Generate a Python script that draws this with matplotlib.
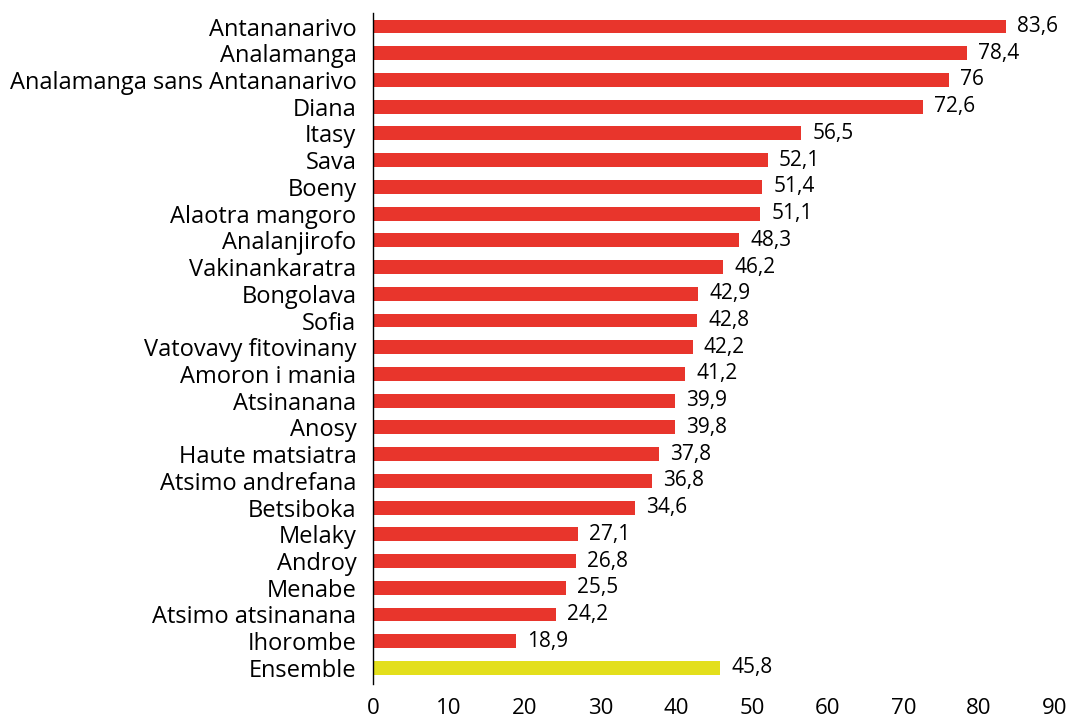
import matplotlib
matplotlib.use("Agg")
import matplotlib.pyplot as plt

plt.rcParams["font.family"] = ["Open Sans", "DejaVu Sans"]

regions = [
    "Antananarivo", "Analamanga", "Analamanga sans Antananarivo", "Diana",
    "Itasy", "Sava", "Boeny", "Alaotra mangoro", "Analanjirofo",
    "Vakinankaratra", "Bongolava", "Sofia", "Vatovavy fitovinany",
    "Amoron i mania", "Atsinanana", "Anosy", "Haute matsiatra",
    "Atsimo andrefana", "Betsiboka", "Melaky", "Androy", "Menabe",
    "Atsimo atsinanana", "Ihorombe", "Ensemble",
]
values = [
    83.6, 78.4, 76, 72.6, 56.5, 52.1, 51.4, 51.1, 48.3, 46.2, 42.9, 42.8,
    42.2, 41.2, 39.9, 39.8, 37.8, 36.8, 34.6, 27.1, 26.8, 25.5, 24.2, 18.9,
    45.8,
]
xticks = [0, 10, 20, 30, 40, 50, 60, 70, 80, 90]

red = "#E8352C"
yellow = "#E3DF1C"
colors = [yellow if r == "Ensemble" else red for r in regions]

fig = plt.figure(figsize=(10.72, 7.19), dpi=100)
ax = fig.add_axes([0.348, 0.0487, 0.636, 0.933])

pos = list(range(len(regions)))
bars = ax.barh(pos, values, height=0.52, color=colors)

labels = [("%g" % v).replace(".", ",") for v in values]
ax.bar_label(bars, labels=labels, padding=8, fontsize=15)

ax.set_yticks(pos)
ax.set_yticklabels(regions, fontsize=17)
ax.set_ylim(len(regions) - 0.4, -0.5)
ax.set_xlim(0, 90)
ax.set_xticks(xticks)
ax.set_xticklabels([str(t) for t in xticks], fontsize=16)
ax.tick_params(length=0)
ax.tick_params(axis="y", pad=12)
ax.tick_params(axis="x", pad=10)

for s in ["top", "right", "bottom"]:
    ax.spines[s].set_visible(False)
ax.spines["left"].set_linewidth(1.0)

fig.savefig("out.png", dpi=100)
